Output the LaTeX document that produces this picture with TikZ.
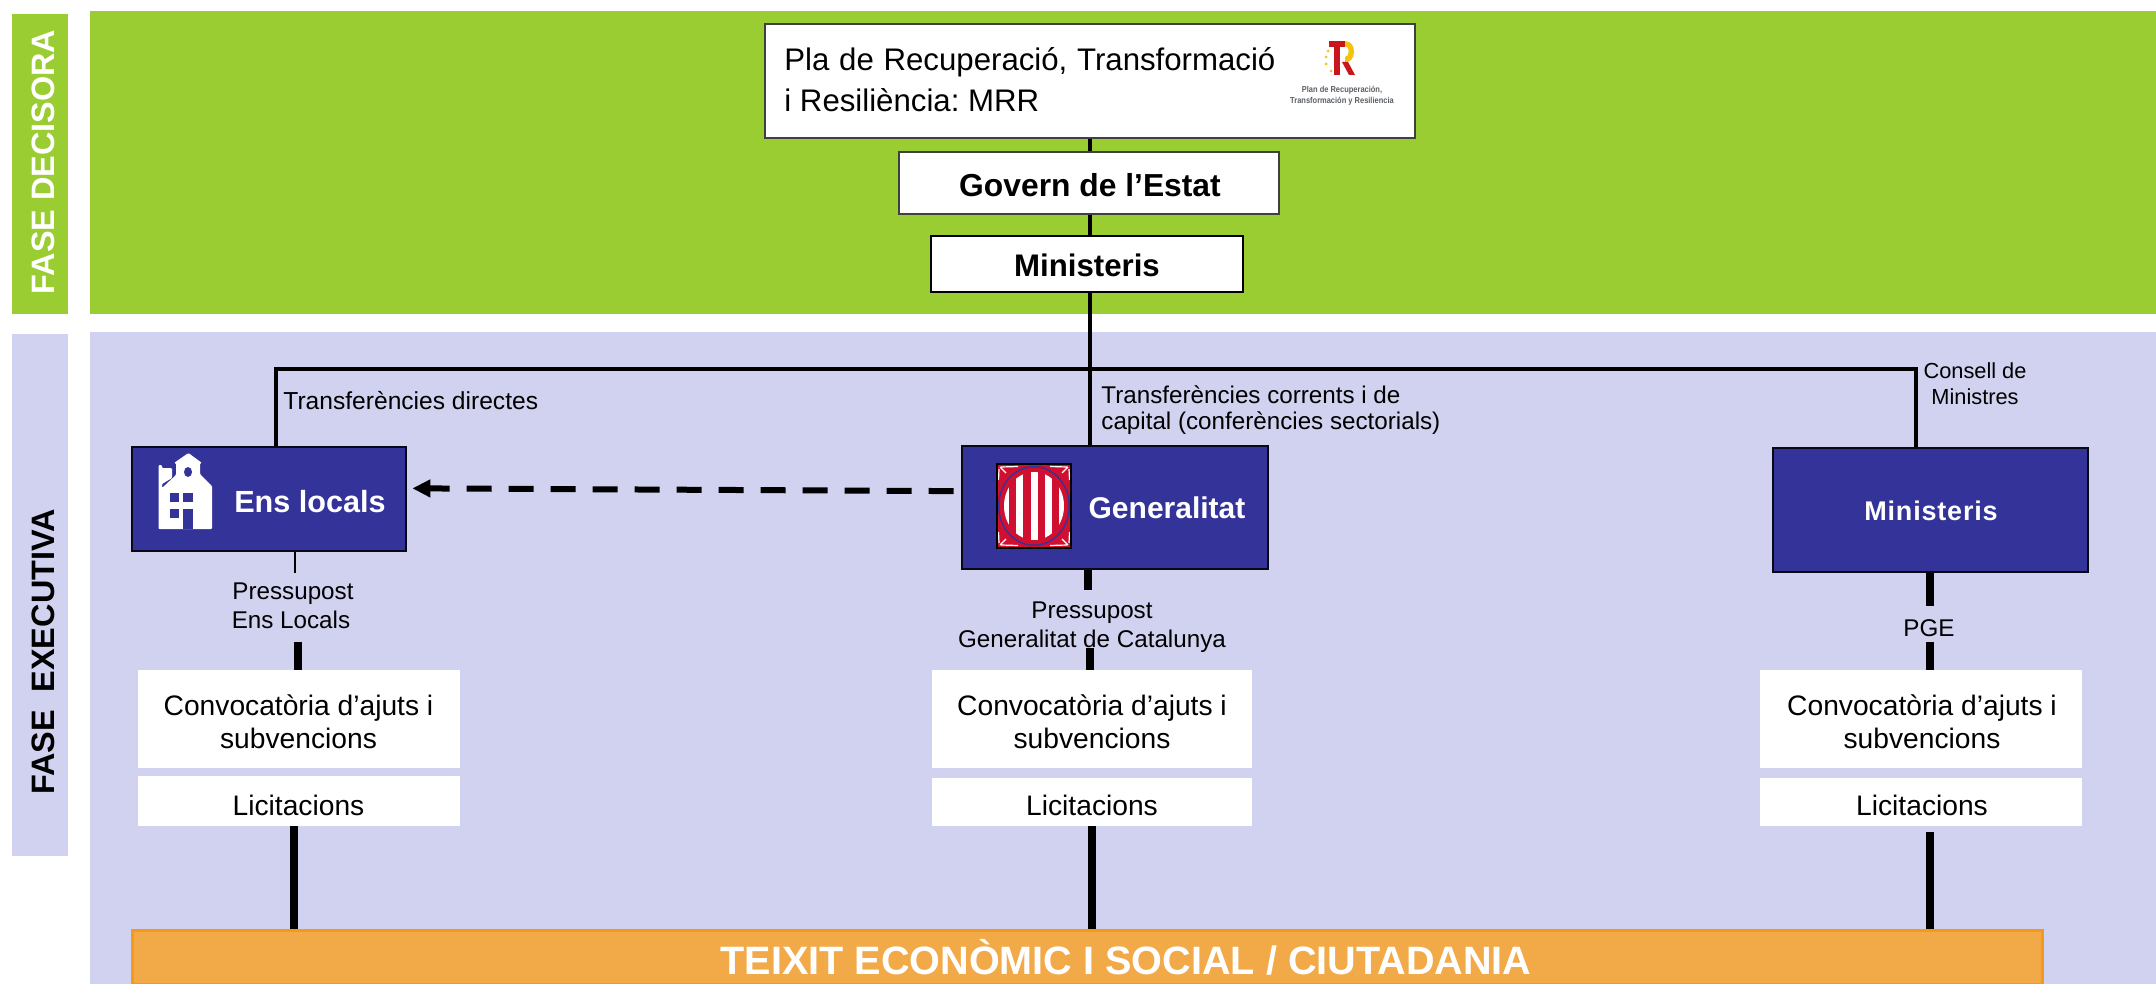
\documentclass[tikz,border=0pt]{standalone}
\usepackage{fontspec}
\setmainfont{Liberation Sans}
\usetikzlibrary{arrows.meta,calc}
\definecolor{grn}{HTML}{9ACD32}
\definecolor{lil}{HTML}{D1D2F0}
\definecolor{nav}{HTML}{333399}
\definecolor{orf}{HTML}{F2A947}
\definecolor{ord}{HTML}{F7981D}
\definecolor{bord}{HTML}{404040}
\definecolor{catred}{HTML}{D01030}
\definecolor{logored}{HTML}{C8161C}
\definecolor{logoyel}{HTML}{F2C40F}
\definecolor{logogry}{HTML}{5A5F66}
\frenchspacing
\newcommand{\fs}[1]{\fontsize{#1pt}{#1pt}\selectfont}
% \areabox{name}{x1}{y1}{x2}{y2}{style}{text}
\newcommand{\areabox}[7]{\node[#6,inner sep=0pt,
  minimum width={(#4-#2)*0.5pt},minimum height={(#5-#3)*0.5pt}]
  (#1) at ({(#2+#4)/2},{(#3+#5)/2}) {#7};}
\tikzset{
  panelg/.style={fill=grn},
  panell/.style={fill=lil},
  whitebox/.style={fill=white,draw=bord,line width=1.25pt},
  blackbox/.style={fill=white,draw=black,line width=1.25pt},
  bluebox/.style={fill=nav,draw=black!85!nav,line width=1.4pt},
  stepcard/.style={fill=white},
  cardtxt/.style={inner sep=0pt,align=center,font=\fs{14.1}},
  orangebar/.style={fill=orf,draw=ord,line width=1.5pt},
  plain/.style={inner sep=0pt,align=center,font=\fs{12.1}},
  lefttxt/.style={plain,align=left,anchor=west},
  phase/.style={inner sep=0pt,rotate=90,font=\bfseries\fs{16.2}},
  bluetxt/.style={inner sep=0pt,text=white,font=\bfseries\fs{15}},
  thinln/.style={line width=1pt,black},
  midln/.style={line width=1.9pt,black},
  fatln/.style={line width=4pt,black},
}
\begin{document}
\begin{tikzpicture}[x=0.5pt,y=-0.5pt]
\useasboundingbox (0,0) rectangle (2156,984);
% panels
\areabox{pg}{90}{11}{2156}{314}{panelg}{}
\areabox{pl}{90}{332}{2156}{984}{panell}{}
\areabox{sg}{12}{14}{68}{314}{panelg}{}
\areabox{sl}{12}{334}{68}{856}{panell}{}
\node[phase,text=white] (fd) at (43,162) {FASE DECISORA};
\node[phase,text=black] (fe) at (43,652) {FASE~~EXECUTIVA};
% boxes
\coordinate (spine) at (1090,0);
\areabox{plan}{765}{24}{1415}{138}{whitebox}{}
\areabox{gov}{899}{152}{1279}{214}{whitebox}{}
\areabox{minT}{931}{236}{1243}{292}{blackbox}{}
\areabox{ens}{132}{447}{406}{551}{bluebox}{}
\areabox{gen}{962}{446}{1268}{569}{bluebox}{}
\areabox{minB}{1773}{448}{2088}{572}{bluebox}{}
% connectors of the upper spine
\draw[midln] (plan.south -| spine) -- (gov.north -| spine);
\draw[midln] (gov.south -| spine) -- (minT.north -| spine);
\draw[midln] (minT.south -| spine) -- (gen.north -| spine);
\coordinate (hl) at (276,369);
\coordinate (hr) at (1916,369);
\draw[midln] (ens.north -| hl) -- (hl) -- (hr) -- (minB.north -| hr);
% text upper
\node[lefttxt,anchor=west,font=\fs{15.6}] (plant1) at (784,62) {\makebox[245.5pt][s]{Pla de Recuperació, Transformació}};
\node[lefttxt,anchor=west,font=\fs{15.6}] (plant2) at (784,100) {i Resiliència: MRR};
\node[inner sep=0pt,font=\bfseries\fs{15.9}] (govt) at (1090,185) {Govern de l’Estat};
\node[inner sep=0pt,font=\bfseries\fs{15.6}] (mint) at (1087,265) {Ministeris};
% PRTR logo
\fill[logored] (1329,41) rectangle (1345,47);
\fill[logored] (1334,47) rectangle (1340,75);
\fill[logoyel] (1345,41) .. controls (1358,41) and (1356,64) .. (1345,62) -- (1345,57) .. controls (1350,57) and (1350,46) .. (1345,46) -- cycle;
\fill[logored] (1342,62) -- (1348,62) -- (1355,75) -- (1349,75) -- cycle;
\foreach \a/\b in {1328/51,1326/57,1326/64,1331/71}{\fill[logoyel] (\a,\b) circle (1.5);}
\node[inner sep=0pt,text=logogry,font=\bfseries\fs{4.3}] (lg1) at (1342,90) {\scalebox{0.87}[1]{Plan de Recuperación,}};
\node[inner sep=0pt,text=logogry,font=\bfseries\fs{4.3}] (lg2) at (1342,101) {\scalebox{0.87}[1]{Transformación y Resiliencia}};
% labels
\node[lefttxt,font=\fs{12.3}] (tdir) at (283,401) {Transferències directes};
\node[lefttxt] (tc1) at (1101,395) {Transferències corrents i de};
\node[lefttxt] (tc2) at (1101,423) {capital (conferències sectorials)};
\node[plain,font=\fs{10.9}] (cm1) at (1975,371) {Consell de};
\node[plain,font=\fs{10.9}] (cm2) at (1975,397) {Ministres};
% blue box content
\node[bluetxt,font=\bfseries\fs{15.3}] (enst) at (310,502) {Ens locals};
\node[bluetxt] (gent) at (1167,508) {Generalitat};
\node[bluetxt,font=\bfseries\fs{13.5}] (mintb) at (1931,511) {\addfontfeature{LetterSpace=3}Ministeris};
% school icon
\fill[white,rounded corners=0.5pt] (158.5,529) -- (158.5,465) -- (162,465) -- (162,468) -- (172,468) -- (172,478) -- (162,484)
  -- (162,488) -- (176,475) -- (176,463) -- (174,463) -- (188.4,453) -- (202,463) -- (200,463) -- (200,474) -- (212,486) -- (212,529) -- cycle;
\fill[nav] (188,472) ellipse (4 and 5);
\fill[nav] (170,493) rectangle (178.5,502);
\fill[nav] (183,493) rectangle (193,502);
\fill[nav] (170,509) rectangle (178.5,518);
\fill[nav] (183,509) rectangle (193,529);
% Generalitat emblem
\fill[catred] (997,464) rectangle (1071,548);
\foreach \sx/\sy in {1/1,-1/1,1/-1,-1/-1}{
  \draw[white,line width=0.6pt] ({1034+\sx*34},{506+\sy*39}) -- ({1034+\sx*28},{506+\sy*33})
    ({1034+\sx*33},{506+\sy*39}) -- ({1034+\sx*16},{506+\sy*39.5})
    ({1034+\sx*35},{506+\sy*37}) -- ({1034+\sx*35.5},{506+\sy*26});
}
\fill[nav] (1034,506) ellipse (36 and 40);
\fill[catred] (1034,506) ellipse (34.5 and 38.5);
\begin{scope}
\clip (1034,506) ellipse (30 and 34);
\fill[white] (1004,460) rectangle (1009,552);
\fill[white] (1016,460) rectangle (1023,552);
\fill[white] (1030.5,460) rectangle (1038,552);
\fill[white] (1045,460) rectangle (1052,552);
\fill[white] (1059,460) rectangle (1064,552);
\end{scope}
\draw[black,line width=1.3pt] (997,464) rectangle (1071,548);
% budget labels
\node[plain] (pe1) at (293,594) {Pressupost};
\node[plain] (pe2) at (291,620) {Ens Locals};
\node[plain] (pg1) at (1092,613) {Pressupost};
\node[plain] (pg2) at (1092,641) {Generalitat de Catalunya};
\node[plain] (pge) at (1929,628) {PGE};
% cards
\areabox{cl}{138}{670}{460}{768}{stepcard}{}
\areabox{ll}{138}{776}{460}{826}{stepcard}{}
\areabox{cm}{932}{670}{1252}{768}{stepcard}{}
\areabox{lm}{932}{778}{1252}{826}{stepcard}{}
\areabox{cr}{1760}{670}{2082}{768}{stepcard}{}
\areabox{lr}{1760}{778}{2082}{826}{stepcard}{}
\foreach \nm/\cx in {l/298.5,m/1092,r/1922}{
  \node[cardtxt] (tc\nm) at (\cx,708) {Convocatòria d’ajuts i};
  \node[cardtxt] (ts\nm) at (\cx,738) {subvencions};
  \node[cardtxt] (tl\nm) at (\cx,805) {Licitacions};
}
\areabox{bar}{132}{930}{2042}{984}{orangebar}{}
\node[inner sep=0pt,text=white,font=\bfseries\fs{19.8}] (bart) at (1126,957) {TEIXIT ECONÒMIC I SOCIAL / CIUTADANIA};
% lower connectors
\coordinate (a1) at (295,573);
\coordinate (a2) at (298,642);
\coordinate (b1) at (1088,590);
\coordinate (b2) at (1090,648);
\coordinate (c1) at (1930,606);
\coordinate (c2) at (1930,642);
\coordinate (c3) at (1930,832);
\coordinate (d1) at (293.5,826);
\coordinate (d2) at (1092,826);
\draw[thinln] (ens.south -| a1) -- (a1);
\draw[fatln] (a2) -- (cl.north -| a2);
\draw[fatln] (gen.south -| b1) -- (b1);
\draw[fatln] (b2) -- (cm.north -| b2);
\draw[fatln] (minB.south -| c1) -- (c1);
\draw[fatln] (c2) -- (cr.north -| c2);
\draw[fatln] (c3) -- (bar.north -| c3);
\draw[fatln] (ll.south -| d1) -- (bar.north -| d1);
\draw[fatln] (lm.south -| d2) -- (bar.north -| d2);
% dashed arrow
\draw[line width=3pt,black,dash pattern=on 12.5pt off 8.5pt,shorten <=3.5pt,shorten >=2.5pt,
  -{Triangle[length=9pt,width=8.5pt]}]
  ($(gen.north west)!0.37!(gen.south west)$) -- ($(ens.north east)!0.4!(ens.south east)$);
\end{tikzpicture}
\end{document}
